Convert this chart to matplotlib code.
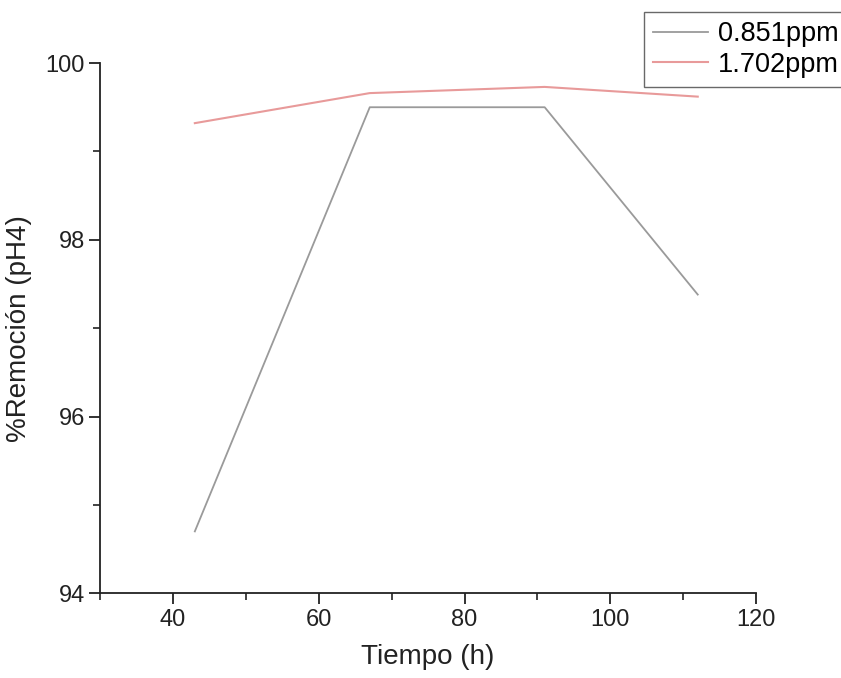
import matplotlib
matplotlib.use('Agg')
import matplotlib.pyplot as plt
from matplotlib.ticker import MultipleLocator

plt.rcParams['font.family'] = ['Liberation Sans', 'DejaVu Sans']

# data
tiempo = [43, 67, 91, 112]
rem_0851 = [94.7, 99.5, 99.5, 97.38]
rem_1702 = [99.32, 99.66, 99.73, 99.62]
labels = ['0.851ppm', '1.702ppm']

fig = plt.figure(figsize=(8.41, 6.78), dpi=100)
ax = fig.add_axes([0.119, 0.125, 0.78, 0.782])

l1, = ax.plot(tiempo, rem_0851, color='#9a9a9a', lw=1.3)
l2, = ax.plot(tiempo, rem_1702, color='#e89a9a', lw=1.5)

ax.set_xlim(30, 120)
ax.set_ylim(94, 100)
ax.xaxis.set_major_locator(MultipleLocator(20))
ax.xaxis.set_minor_locator(MultipleLocator(10))
ax.yaxis.set_major_locator(MultipleLocator(2))
ax.yaxis.set_minor_locator(MultipleLocator(1))

for s in ['top', 'right']:
    ax.spines[s].set_visible(False)
for s in ['left', 'bottom']:
    ax.spines[s].set_linewidth(1.3)
    ax.spines[s].set_color('#222222')

ax.tick_params(which='major', direction='out', length=8, width=1.3,
               labelsize=17, colors='#222222', pad=3)
ax.tick_params(which='minor', direction='out', length=5, width=1.2,
               colors='#222222')

ax.set_xlabel('Tiempo (h)', fontsize=20, labelpad=10, color='#222222')
ax.set_ylabel('%Remoción (pH4)', fontsize=20, labelpad=10, color='#222222')

leg = fig.legend([l1, l2], labels, loc='upper left',
                 bbox_to_anchor=(644 / 841, 1 - 12 / 678),
                 fontsize=19.5, frameon=True, fancybox=False,
                 edgecolor='#444444', handlelength=2.0, handletextpad=0.37,
                 borderpad=0.35, labelspacing=0.15, borderaxespad=0)
leg.get_frame().set_linewidth(1.0)

fig.savefig('out.png', dpi=100)
